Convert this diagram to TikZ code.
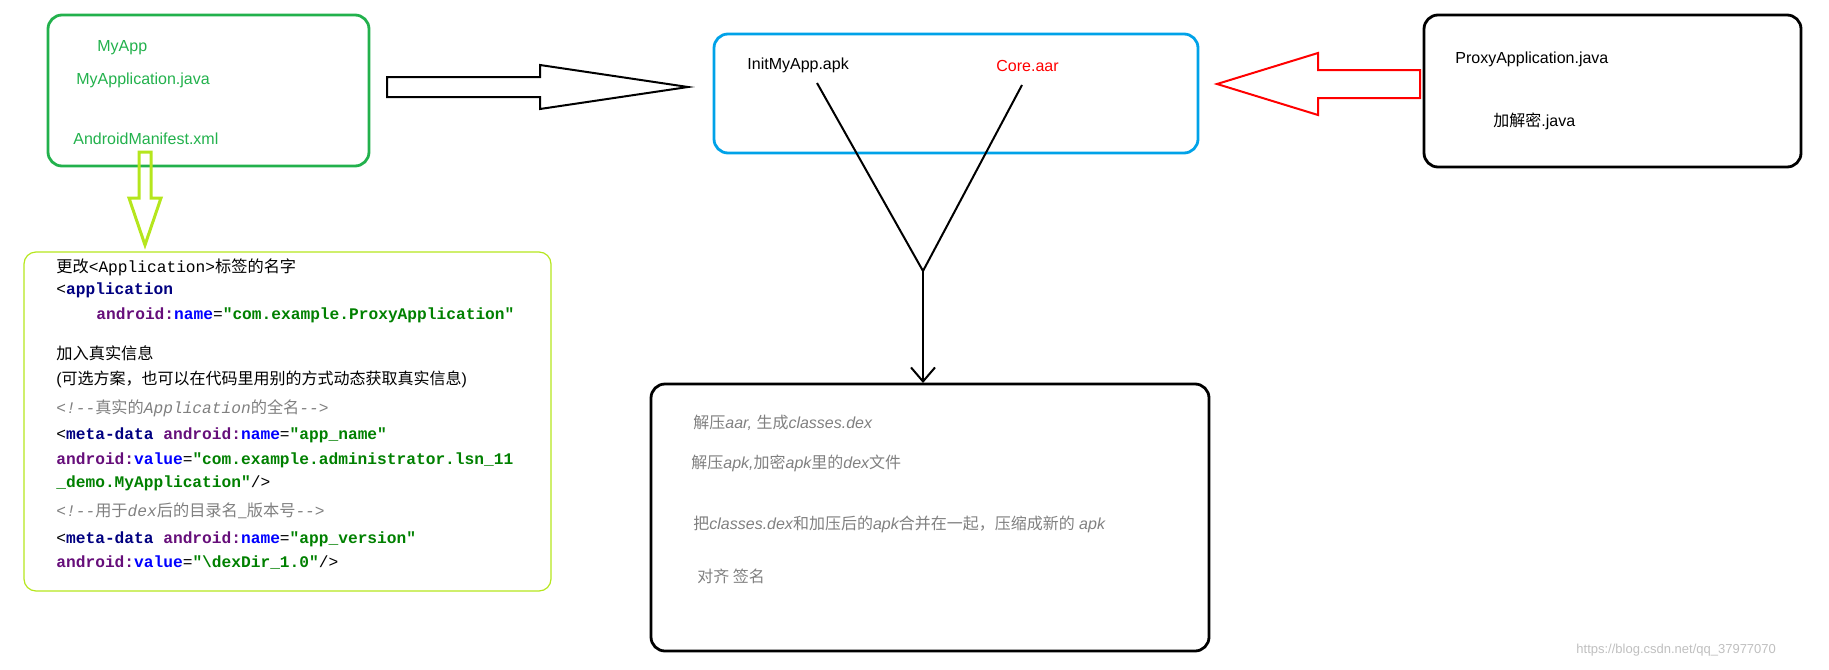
\documentclass[tikz,border=0pt]{standalone}
\usepackage{fontspec}
\setmainfont{Liberation Sans}
\setmonofont{Liberation Mono}
\newfontfamily\cjk{Noto Sans CJK SC}
\usetikzlibrary{positioning,arrows.meta}
\newcommand{\zh}[1]{{\cjk #1}}
\definecolor{boxgreen}{RGB}{34,177,76}
\definecolor{lime}{RGB}{181,230,29}
\definecolor{boxblue}{RGB}{0,162,232}
\definecolor{tagnavy}{RGB}{0,0,128}
\definecolor{attrpurple}{RGB}{102,14,122}
\definecolor{valgreen}{RGB}{0,128,0}
\tikzset{
  box/.style={draw, line width=1.4pt, rounded corners=7pt},
  lbl/.style={anchor=west, inner sep=0pt, font=\fontsize{8}{9}\selectfont},
  code/.style={anchor=west, inner sep=0pt, font=\ttfamily\fontsize{8.1}{9}\selectfont},
  remark/.style={code, gray, font=\ttfamily\itshape\fontsize{8.1}{9}\selectfont},
  stepline/.style={lbl, gray, font=\itshape\fontsize{8}{9}\selectfont}
}
\begin{document}
\begin{tikzpicture}[x=0.5pt, y=-0.5pt]
      \useasboundingbox (0,0) rectangle (1829,669);
      %boxes
      \draw[box, boxgreen] (48,15) rectangle (369,166);
      \draw[box, boxblue] (714,34) rectangle (1198,153);
      \draw[box] (1424,15) rectangle (1801,167);
      \draw[lime, line width=0.6pt, rounded corners=6pt] (24,252) rectangle (551,591);
      \draw[box] (651,384) rectangle (1209,651);
      %labels
      \node[lbl, boxgreen] (myapp) at (97,48) {MyApp};
      \node[lbl, boxgreen] (myappl) at (76,80) {MyApplication.java};
      \node[lbl, boxgreen] (manifest) at (73,139) {AndroidManifest.xml};
      \node[lbl] (init) at (747,65) {InitMyApp.apk};
      \node[lbl, red] (core) at (996,66) {Core.aar};
      \node[lbl] (proxy) at (1455,59) {ProxyApplication.java};
      \node[lbl] (crypt) at (1493,121) {\zh{加解密}.java};
      %code
      \node[code] (c1) at (56,267) {\zh{更改}<Application>\zh{标签的名字}};
      \node[code, tagnavy] (c2) at (56,290) {\textcolor{black}{<}\textbf{application}};
      \node[code] (c3) at (96,315) {\textcolor{attrpurple}{\textbf{android:}}\textcolor{blue}{\textbf{name}}=\textcolor{valgreen}{\textbf{"com.example.ProxyApplication"}}};
      \node[code] (c4) at (56,353) {\zh{加入真实信息}};
      \node[lbl] (c5) at (56,379) {(\zh{可选方案，也可以在代码里用别的方式动态获取真实信息})};
      \node[remark] (c6) at (56,408) {<!--\zh{真实的}Application\zh{的全名}-->};
      \node[code] (c7) at (56,435) {<\textcolor{tagnavy}{\textbf{meta-data}} \textcolor{attrpurple}{\textbf{android:}}\textcolor{blue}{\textbf{name}}=\textcolor{valgreen}{\textbf{"app\_name"}}};
      \node[code] (c8) at (56,460) {\textcolor{attrpurple}{\textbf{android:}}\textcolor{blue}{\textbf{value}}=\textcolor{valgreen}{\textbf{"com.example.administrator.lsn\_11}}};
      \node[code] (c9) at (56,483) {\textcolor{valgreen}{\textbf{\_demo.MyApplication"}}/>};
      \node[remark] (c10) at (56,511) {<!--\zh{用于}dex\zh{后的目录名\_版本号}-->};
      \node[code] (c11) at (56,539) {<\textcolor{tagnavy}{\textbf{meta-data}} \textcolor{attrpurple}{\textbf{android:}}\textcolor{blue}{\textbf{name}}=\textcolor{valgreen}{\textbf{"app\_version"}}};
      \node[code] (c12) at (56,562) {\textcolor{attrpurple}{\textbf{android:}}\textcolor{blue}{\textbf{value}}=\textcolor{valgreen}{\textbf{"\textbackslash dexDir\_1.0"}}/>};
      %steps
      \node[stepline] (s1) at (693,423) {\zh{解压}aar, \zh{生成}classes.dex};
      \node[stepline] (s2) at (691,463) {\zh{解压}apk,\zh{加密}apk\zh{里的}dex\zh{文件}};
      \node[stepline] (s3) at (693,524) {\zh{把}classes.dex\zh{和加压后的}apk\zh{合并在一起，压缩成新的} apk};
      \node[stepline] (s4) at (697,576) {\zh{对齐 签名}};
      \node[lbl, gray!50, font=\fontsize{6.5}{7}\selectfont] (mark) at (1576,650) {https://blog.csdn.net/qq\_37977070};
      %block arrows
      \draw[line width=1pt] (387,77) -- (540,77) -- (540,65) -- (688,87) -- (540,109) -- (540,97) -- (387,97) -- cycle;
      \draw[red, line width=1pt] (1420,70) -- (1318,70) -- (1318,53) -- (1217,84) -- (1318,115) -- (1318,98) -- (1420,98) -- cycle;
      \draw[lime, line width=1.5pt] (139,152) -- (151,152) -- (151,198) -- (161,198) -- (145,245) -- (129,198) -- (139,198) -- cycle;
      %merge
      \coordinate (fromapk) at (817,83);
      \coordinate (fromaar) at (1022,85);
      \coordinate (join) at (923,271);
      \coordinate (tosteps) at (923,383);
      \draw[line width=1pt] (fromapk) -- (join) -- (fromaar);
      \draw[line width=1pt, -{Straight Barb[length=7pt, width=12pt]}] (join) -- (tosteps);
\end{tikzpicture}
\end{document}
